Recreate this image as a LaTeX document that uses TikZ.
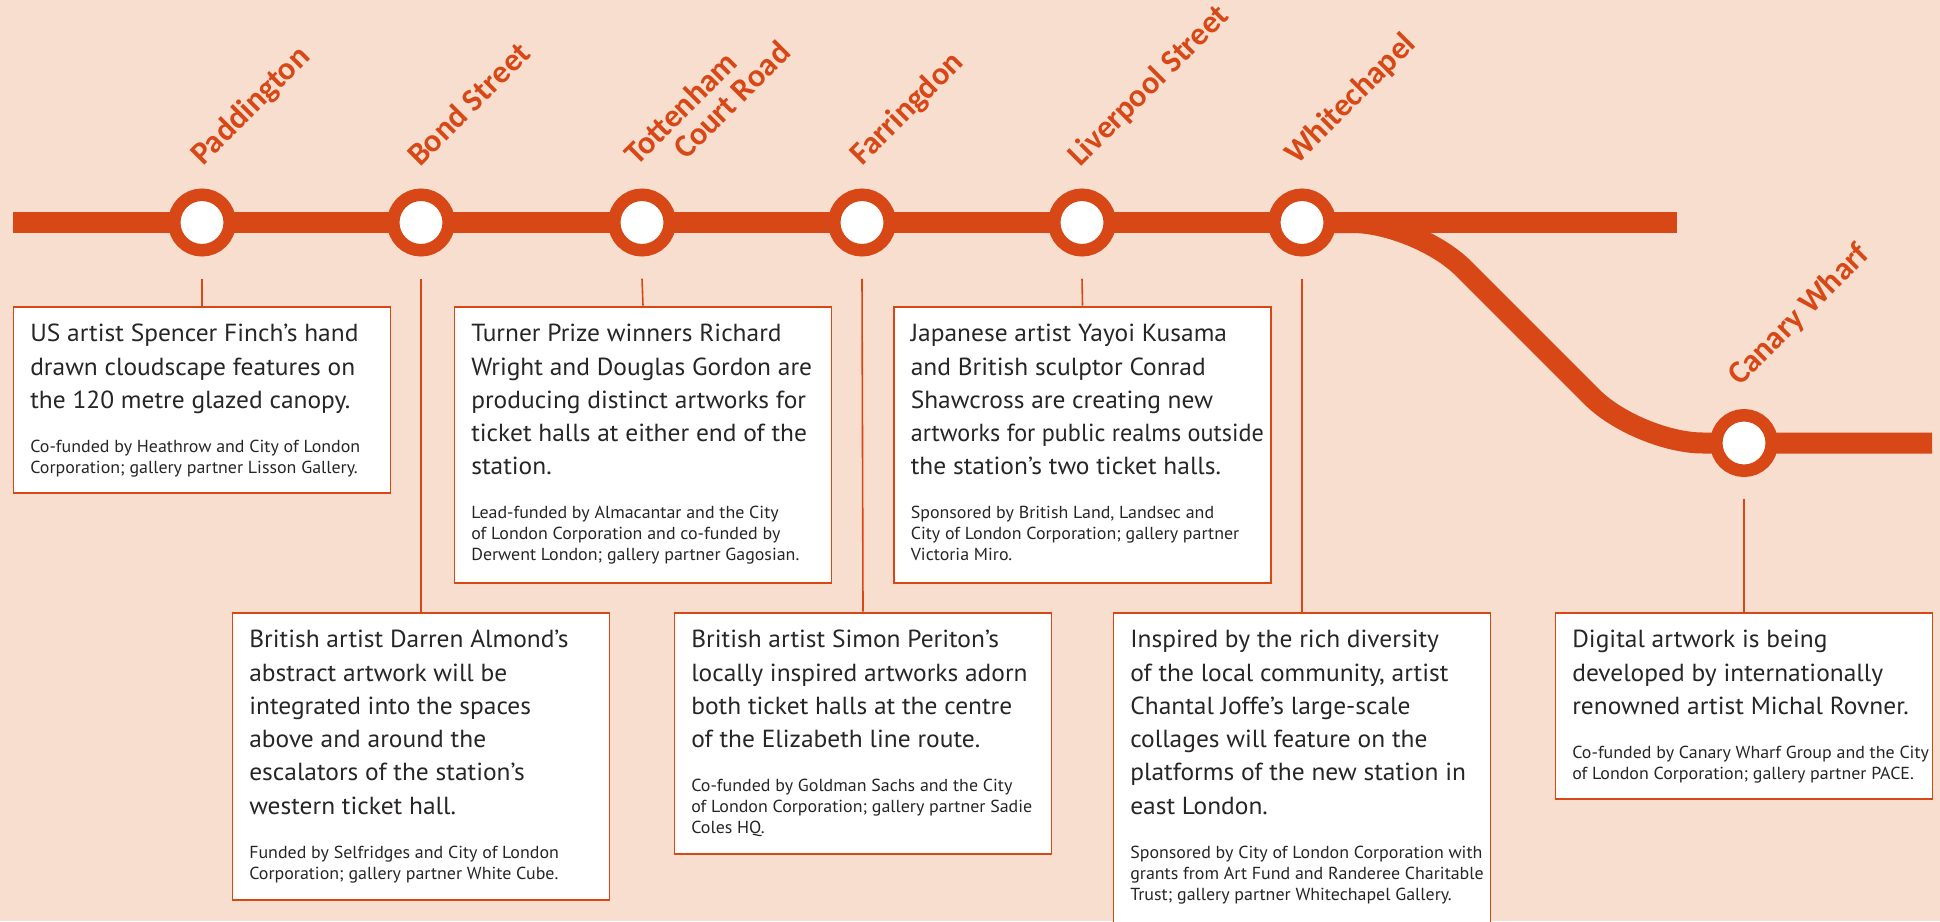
\documentclass[tikz,border=0pt]{standalone}
\usepackage{fontspec}
\usepackage{graphicx}
\setmainfont{PT Sans}[FakeStretch=1.03]
\newfontfamily\stfont{Carlito}
\usetikzlibrary{calc}
\definecolor{bg}{RGB}{248,222,207}
\definecolor{tfl}{RGB}{216,71,22}
\definecolor{ink}{RGB}{40,37,37}
\newcommand\cardtext[2]{\parbox[t]{420pt}{\raggedright\fontsize{24.7}{33.3}\selectfont #1\par\vskip 23pt\fontsize{17.4}{21}\selectfont #2\par}}
\begin{document}
\begin{tikzpicture}[x=1pt,y=-1pt,
  rail/.style={draw=tfl, line width=21pt},
  stn/.style={circle, fill=white, draw=tfl, line width=12.5pt, minimum size=55.5pt, inner sep=0pt},
  stlab/.style={rotate=45, anchor=base west, inner sep=0pt, text=tfl, font=\stfont\bfseries\fontsize{32.3}{32.3}\selectfont},
  card/.style={draw=tfl, line width=1.8pt, fill=white, minimum width=377pt, anchor=north, inner sep=0pt},
  cardtxt/.style={anchor=base west, inner sep=0pt, text=ink},
  conn/.style={draw=tfl, line width=1.6pt}]
\useasboundingbox (0,0) rectangle (1940,921);
\fill[bg] (0,0) rectangle (1940,921);
\clip (0,0) rectangle (1940,921);
% line
\coordinate (west) at (13,222.5);
\coordinate (east) at (1677,222.5);
\coordinate (cwend) at (1932,443);
\draw[rail] (west) -- (east);
\draw[rail, rounded corners=65pt] (1302,222.5) -- (1417.5,222.5) -- (1638,443) -- (cwend);
% stations
\node[stn] (pad) at (202,222.5) {};
\node[stn] (bond) at (421,222.5) {};
\node[stn] (tcr) at (642,222.5) {};
\node[stn] (far) at (862,222.5) {};
\node[stn] (lst) at (1082,222.5) {};
\node[stn] (wch) at (1302,222.5) {};
\node[stn] (cw) at (1744,443) {};
% labels
\node[stlab] (padl) at (203,167) {Paddington};
\node[stlab] (bondl) at (420,168) {Bond Street};
\node[stlab] (tcrl1) at (637,167) {Tottenham};
\node[stlab] (tcrl2) at (686,161) {Court Road};
\node[stlab] (farl) at (862,167) {Farringdon};
\node[stlab] (lstl) at (1080,168) {Liverpool Street};
\node[stlab] (wchl) at (1297,166) {Whitechapel};
\node[stlab] (cwl) at (1740,387) {Canary Wharf};
% boxes
\node[card, minimum height=186pt] (padbox) at (202,305.7) {};
\node[card, minimum height=276pt] (tcrbox) at (643,305.7) {};
\node[card, minimum height=276pt] (lstbox) at (1082.5,305.7) {};
\node[card, minimum height=287.3pt] (bondbox) at (421,611.7) {};
\node[card, minimum height=241.6pt] (farbox) at (863,611.7) {};
\node[card, minimum height=340pt] (wchbox) at (1302,611.7) {};
\node[card, minimum height=186pt] (cwbox) at (1744,611.7) {};
% connectors
\draw[conn] ([yshift=-22.25pt]pad.south) -- (padbox.north);
\draw[conn] ([yshift=-22.25pt]bond.south) -- (bondbox.north);
\draw[conn] ([yshift=-22.25pt]tcr.south) -- (tcrbox.north);
\draw[conn] ([yshift=-22.25pt]far.south) -- (farbox.north);
\draw[conn] ([yshift=-22.25pt]lst.south) -- (lstbox.north);
\draw[conn] ([yshift=-22.25pt]wch.south) -- (wchbox.north);
\draw[conn] ([yshift=-22.25pt]cw.south) -- (cwbox.north);
% texts
\node[cardtxt] (padt) at ([shift={(17.5,36)}]padbox.north west) {\cardtext{US artist Spencer Finch’s hand\\drawn cloudscape features on\\the 120 metre glazed canopy.}{Co-funded by Heathrow and City of London\\Corporation; gallery partner Lisson Gallery.}};
\node[cardtxt] (tcrt) at ([shift={(17.5,36)}]tcrbox.north west) {\cardtext{Turner Prize winners Richard\\Wright and Douglas Gordon are\\producing distinct artworks for\\ticket halls at either end of the\\station.}{Lead-funded by Almacantar and the City\\of London Corporation and co-funded by\\Derwent London; gallery partner Gagosian.}};
\node[cardtxt] (lstt) at ([shift={(17.5,36)}]lstbox.north west) {\cardtext{Japanese artist Yayoi Kusama\\and British sculptor Conrad\\Shawcross are creating new\\\scalebox{0.95}[1]{artworks for public realms outside}\\the station’s two ticket halls.}{Sponsored by British Land, Landsec and\\City of London Corporation; gallery partner\\Victoria Miro.}};
\node[cardtxt] (bondt) at ([shift={(17.5,36)}]bondbox.north west) {\cardtext{British artist Darren Almond’s\\abstract artwork will be\\integrated into the spaces\\above and around the\\escalators of the station’s\\western ticket hall.}{Funded by Selfridges and City of London\\Corporation; gallery partner White Cube.}};
\node[cardtxt] (fart) at ([shift={(17.5,36)}]farbox.north west) {\cardtext{British artist Simon Periton’s\\locally inspired artworks adorn\\both ticket halls at the centre\\of the Elizabeth line route.}{Co-funded by Goldman Sachs and the City\\of London Corporation; gallery partner Sadie\\Coles HQ.}};
\node[cardtxt] (wcht) at ([shift={(17.5,36)}]wchbox.north west) {\cardtext{Inspired by the rich diversity\\of the local community, artist\\Chantal Joffe’s large-scale\\collages will feature on the\\platforms of the new station in\\east London.}{Sponsored by City of London Corporation with\\grants from Art Fund and Randeree Charitable\\Trust; gallery partner Whitechapel Gallery.}};
\node[cardtxt] (cwt) at ([shift={(17.5,36)}]cwbox.north west) {\cardtext{Digital artwork is being\\developed by internationally\\renowned artist Michal Rovner.}{Co-funded by Canary Wharf Group and the City\\of London Corporation; gallery partner PACE.}};
\end{tikzpicture}
\end{document}
